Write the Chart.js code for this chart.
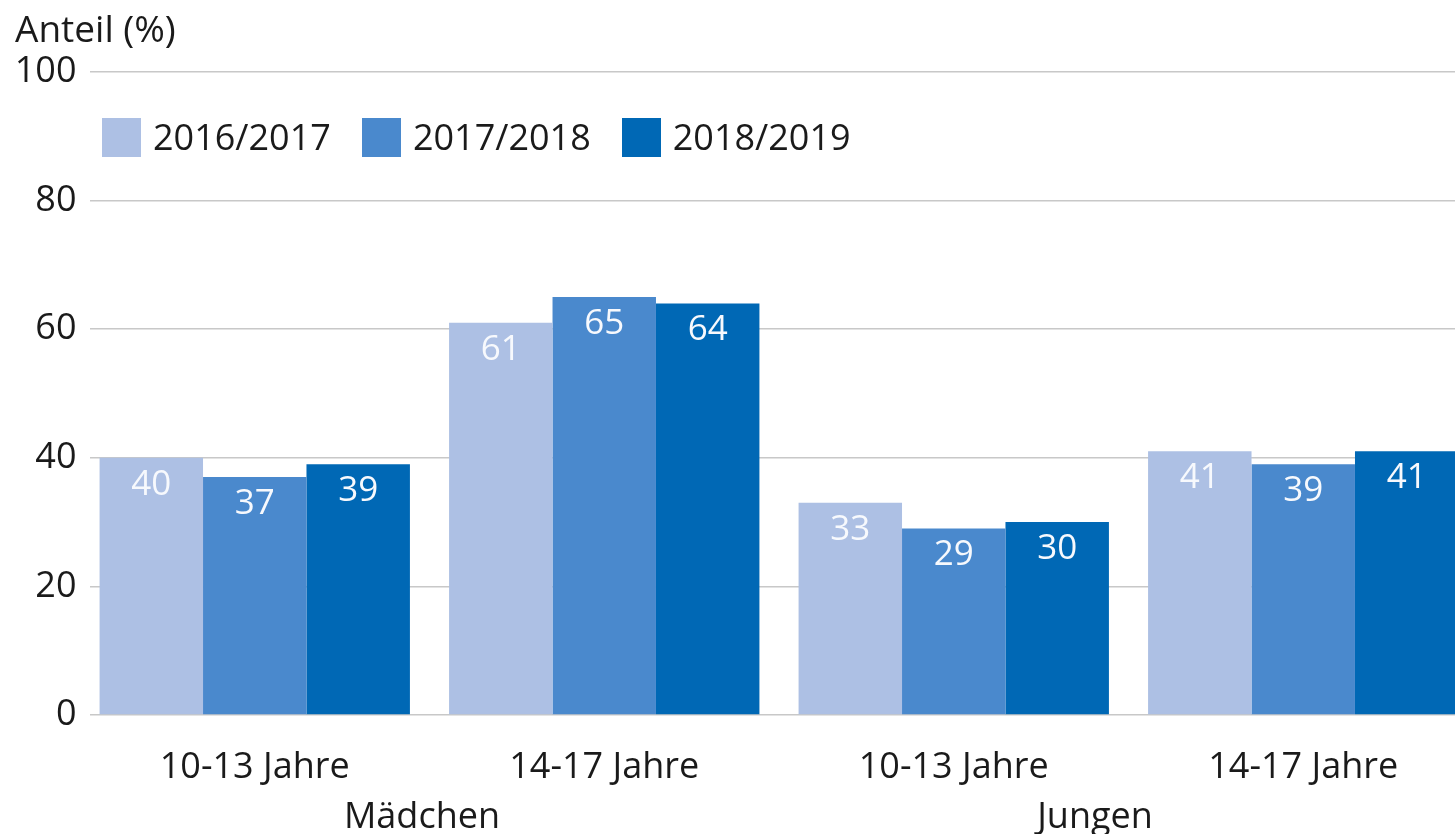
<!DOCTYPE html>
<html lang="de">
<head>
<meta charset="utf-8">
<title>Anteil (%)</title>
<script src="https://cdn.jsdelivr.net/npm/chart.js@4"></script>
<style>
  html, body { margin: 0; padding: 0; background: #fff; overflow: hidden; }
  body { font-family: "Open Sans", sans-serif; color: #1a1a1a; }
  #wrap { position: relative; width: 1480px; height: 834px; }
  #yTitle { position: absolute; left: 15px; top: 6px; font-size: 37px; line-height: 44px; }
  #legend { position: absolute; left: 102px; top: 116px; display: flex; align-items: center; font-size: 36px; line-height: 42px; }
  .item { display: flex; align-items: center; margin-right: 31px; }
  .box { width: 39px; height: 39px; margin-right: 12px; }
  .group { position: absolute; top: 793px; font-size: 36px; line-height: 44px; transform: translateX(-50%); white-space: nowrap; }
</style>
</head>
<body>
<div id="wrap">
  <canvas id="chart" width="1480" height="834"></canvas>
  <div id="yTitle">Anteil (%)</div>
  <div id="legend"></div>
  <div class="group" style="left:422px">Mädchen</div>
  <div class="group" style="left:1095px">Jungen</div>
</div>
<script>
// age groups on the x axis (Mädchen: first two, Jungen: last two)
const categories = ['10-13 Jahre', '14-17 Jahre', '10-13 Jahre', '14-17 Jahre'];
const seriesNames = ['2016/2017', '2017/2018', '2018/2019'];
const values1617 = [40, 61, 33, 41];
const values1718 = [37, 65, 29, 39];
const values1819 = [39, 64, 30, 41];
const colors = ['#adc0e4', '#4a89cd', '#0068b5'];

const textColor = '#1a1a1a';
const fontFamily = '"Open Sans", sans-serif';

// legend built from the same series names / colours
const legendEl = document.getElementById('legend');
seriesNames.forEach(function(name, i) {
    const item = document.createElement('div');
    item.className = 'item';
    const box = document.createElement('span');
    box.className = 'box';
    box.style.background = colors[i];
    const txt = document.createElement('span');
    txt.textContent = name;
    item.appendChild(box);
    item.appendChild(txt);
    legendEl.appendChild(item);
});

// gridlines start a little right of where the first category begins
const shiftCategories = {
    id: 'shiftCategories',
    afterLayout(chart) {
        const x = chart.scales.x;
        x._startPixel -= 9.5;
        x._length += 9.5;
    }
};

// white value labels just under the top of each bar
const valueLabels = {
    id: 'valueLabels',
    afterDatasetsDraw(chart) {
        const ctx = chart.ctx;
        ctx.save();
        ctx.font = '35px ' + fontFamily;
        ctx.fillStyle = '#f7f9fd';
        ctx.textAlign = 'center';
        ctx.textBaseline = 'middle';
        chart.data.datasets.forEach(function(ds, i) {
            chart.getDatasetMeta(i).data.forEach(function(bar, j) {
                ctx.fillText(String(ds.data[j]), bar.x, bar.y + 27);
            });
        });
        ctx.restore();
    }
};

const ctx = document.getElementById('chart').getContext('2d');
new Chart(ctx, {
    type: 'bar',
    data: {
        labels: categories,
        datasets: [values1617, values1718, values1819].map(function(vals, i) {
            return {
                label: seriesNames[i],
                data: vals,
                backgroundColor: colors[i],
                borderWidth: 0,
                categoryPercentage: 0.888,
                barPercentage: 1.0
            };
        })
    },
    options: {
        responsive: false,
        animation: false,
        layout: { padding: { top: 72, right: 2, left: 0, bottom: 0 } },
        plugins: {
            legend: { display: false },
            tooltip: { enabled: false }
        },
        scales: {
            x: {
                grid: { display: false },
                border: { display: false },
                ticks: {
                    color: textColor,
                    font: { family: fontFamily, size: 36 },
                    padding: 23,
                    maxRotation: 0,
                    autoSkip: false
                },
                afterFit: function(scale) { scale.height = 119; }
            },
            y: {
                min: 0,
                max: 100,
                ticks: {
                    stepSize: 20,
                    color: textColor,
                    font: { family: fontFamily, size: 36 },
                    padding: 13
                },
                grid: { color: '#c8c8c8', lineWidth: 1.5, drawTicks: false },
                border: { display: false },
                afterFit: function(scale) { scale.width = 89.5; }
            }
        }
    },
    plugins: [shiftCategories, valueLabels]
});
</script>
</body>
</html>
